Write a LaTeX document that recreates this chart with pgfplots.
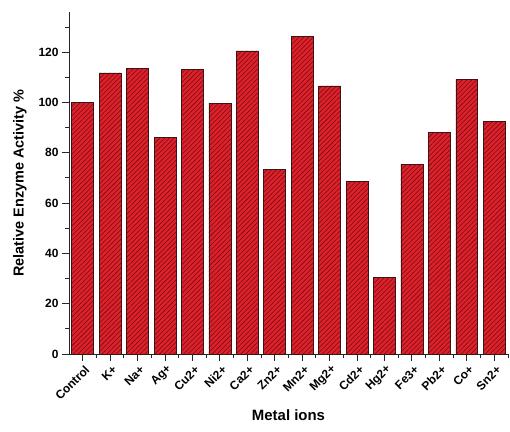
\documentclass[border=0pt]{standalone}
\usepackage{pgfplots}
\pgfplotsset{compat=1.18}
\usepackage{fontspec}
\setmainfont{Liberation Sans}
\usetikzlibrary{patterns.meta}
\definecolor{barred}{RGB}{222,32,42}
\definecolor{hatch}{RGB}{110,14,20}
\definecolor{bedge}{RGB}{60,20,20}
\begin{document}
\begin{tikzpicture}
\begin{axis}[
  scale only axis, width=439bp, height=342bp,
  axis lines=left, axis line style={-, line width=1pt, black!85},
  ybar, bar width=0.8,
  xmin=-0.5, xmax=15.5, ymin=0, ymax=136,
  xtick={0,...,15},
  xticklabels={Control,K+,Na+,Ag+,Cu2+,Ni2+,Ca2+,Zn2+,Mn2+,Mg2+,Cd2+,Hg2+,Fe3+,Pb2+,Co+,Sn2+},
  minor xtick={0.5,1.5,...,15.5},
  ytick={0,20,...,120}, minor ytick={10,30,...,130},
  tick align=outside, major tick length=7bp, minor tick length=4bp,
  tick style={line width=1pt, black!85},
  /pgf/number format/assume math mode=true,
  tick label style={font=\fontsize{12}{14}\selectfont\bfseries},
  x tick label style={rotate=45, anchor=east, yshift=-8bp, xshift=2bp},
  xlabel={Metal ions}, ylabel={Relative Enzyme Activity \%},
  xlabel style={font=\fontsize{15}{18}\selectfont\bfseries, at={(axis description cs:0.5,-0.178)}, anchor=center},
  ylabel style={font=\fontsize{14.5}{17}\selectfont\bfseries, at={(axis description cs:-0.112,0.5)}, anchor=center},
]
\addplot[fill=barred, draw=bedge, line width=0.7pt,
  postaction={pattern={Lines[angle=45,distance=3.4pt,line width=0.55pt]}, pattern color=hatch}]
  coordinates {(0,100) (1,111.8) (2,113.6) (3,86.1) (4,113) (5,99.7) (6,120.5) (7,73.4)
               (8,126.4) (9,106.6) (10,68.7) (11,30.4) (12,75.5) (13,88.2) (14,109.3) (15,92.5)};
\coordinate (sw) at (rel axis cs:0,0);
\coordinate (ne) at (rel axis cs:1,1);
\end{axis}
\pgfresetboundingbox
\useasboundingbox ([shift={(-69bp,-78bp)}]sw) rectangle ([shift={(2bp,12bp)}]ne);
\end{tikzpicture}
\end{document}
